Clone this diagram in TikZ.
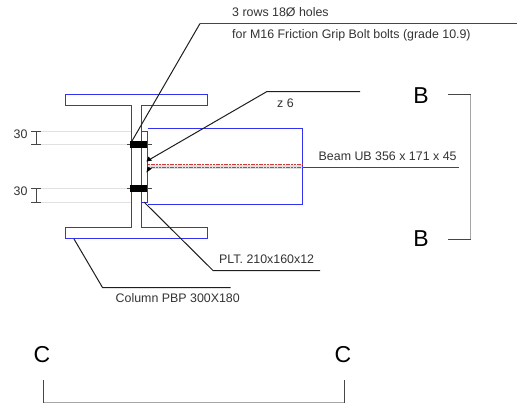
\documentclass[tikz,border=0pt]{standalone}
\usepackage{fontspec}
\setmainfont{Liberation Sans}
\definecolor{steel}{RGB}{50,50,240}
\definecolor{leader}{RGB}{30,30,30}
\definecolor{dim}{RGB}{70,70,70}
\definecolor{ghost}{RGB}{225,225,225}
\definecolor{weld}{RGB}{205,60,60}
\tikzset{
  steelline/.style={draw=steel,line width=1.2pt},
  leaderline/.style={draw=leader,line width=1pt},
  heavyleader/.style={draw=dim,line width=1.2pt},
  bracket/.style={draw=black!35,line width=1.1pt},
  ghostline/.style={draw=ghost,line width=1.5pt},
  dimline/.style={draw=dim,line width=1pt},
  label/.style={font=\fontsize{12.4}{14}\selectfont,text=black!80,inner sep=0pt,anchor=base west},
  bigletter/.style={font=\fontsize{23}{25}\selectfont,text=black,inner sep=0pt,anchor=base},
  boltbody/.style={fill=black,draw=none},
  tip/.style={fill=black,draw=none}
}
\begin{document}
\begin{tikzpicture}[x=1pt,y=-1pt]
\useasboundingbox (0,0) rectangle (517,405);
% guide lines
\coordinate (g1a) at (40,131.5); \coordinate (g1b) at (131,131.5);
\coordinate (g2a) at (40,144.5); \coordinate (g2b) at (131,144.5);
\coordinate (g3a) at (40,188.5); \coordinate (g3b) at (131,188.5);
\coordinate (g4a) at (40,202.5); \coordinate (g4b) at (131,202.5);
\foreach \n in {1,2,3,4} \draw[ghostline] (g\n a) -- (g\n b);
% column
\draw[steelline] (65.5,94.5) -- (207.5,94.5) -- (207.5,105.5) -- (141.5,105.5) -- (141.5,227.5) -- (207.5,227.5) -- (207.5,238.5) -- (65.5,238.5) -- (65.5,227.5) -- (131.5,227.5) -- (131.5,105.5) -- (65.5,105.5) -- cycle;
% plate
\draw[steelline] (141.5,131.5) -- (147.5,131.5) -- (147.5,202.5) -- (141.5,202.5);
% beam
\draw[steelline] (147.5,128.5) -- (302.5,128.5) -- (302.5,204.5) -- (147.5,204.5);
% weld
\fill[black!12] (148,164.5) rectangle (302,168.5);
\draw[weld,line width=1.1pt,dash pattern=on 2pt off 0.7pt] (148,164.5) -- (302,164.5);
\draw[weld,line width=1.1pt,dash pattern=on 2pt off 0.7pt] (148,167.5) -- (302,167.5);
% bolts
\draw[dim,line width=0.9pt] (127,144.5) -- (152,144.5);
\draw[dim,line width=0.9pt] (127,188.5) -- (152,188.5);
\fill[boltbody] (130,140.5) rectangle (147,148);
\fill[boltbody] (130,184.5) rectangle (147,192);
% dimensions
\draw[dimline] (31,131.5) -- (41,131.5) (36.5,131.5) -- (36.5,144.5) (31,144.5) -- (41,144.5);
\draw[dimline] (31,188.5) -- (41,188.5) (36.5,188.5) -- (36.5,202.5) (31,202.5) -- (41,202.5);
% labels
\node[label] (d1) at (13.5,138) {30};
\node[label] (d2) at (13.5,195) {30};
\node[label] (t1) at (232,16) {3 rows 18Ø holes};
\node[label] (t2) at (232,38) {for M16 Friction Grip Bolt bolts (grade 10.9)};
\node[label] (t3) at (277,107) {z 6};
\node[label] (t4) at (318.5,160) {Beam UB 356 x 171 x 45};
\node[label] (t5) at (219,263) {PLT. 210x160x12};
\node[label] (t6) at (115.5,302) {Column PBP 300X180};
\node[bigletter] (b1) at (421,103) {B};
\node[bigletter] (b2) at (421,246.5) {B};
\node[bigletter] (c1) at (42,362.5) {C};
\node[bigletter] (c2) at (343,362.5) {C};
% leaders
\coordinate (boltA) at (132,141);
\coordinate (k1) at (200,23.5); \coordinate (e1) at (517,23.5);
\draw[leaderline] (boltA) -- (k1);
\draw[heavyleader] (k1) -- (e1);
\coordinate (wA) at (147,161); \coordinate (wB) at (147,172);
\coordinate (k2) at (267,91.5); \coordinate (e2) at (360,91.5);
\draw[leaderline] (wA) -- (k2) -- (e2);
\fill[tip] (146.5,161.5) -- (152,160.5) -- (148.5,156.5) -- cycle;
\fill[tip] (146.5,172.5) -- (152,168.5) -- (147.5,167) -- cycle;
\coordinate (pA) at (144,202); \coordinate (k3) at (213,270.5); \coordinate (e3) at (320,270.5);
\draw[leaderline] (pA) -- (k3) -- (e3);
\coordinate (cA) at (74,239); \coordinate (k4) at (102.5,287.5); \coordinate (e4) at (230.5,287.5);
\draw[leaderline] (cA) -- (k4) -- (e4);
\coordinate (bA) at (302.5,167.5); \coordinate (e5) at (459,167.5);
\draw[heavyleader] (bA) -- (e5);
% section marks
\coordinate (b1a) at (448,94.5); \coordinate (b1b) at (470.5,94.5);
\coordinate (b2a) at (448,239.5); \coordinate (b2b) at (470.5,239.5);
\draw[bracket] (b1b) -- (b2b);
\draw[heavyleader] (b1a) -- (b1b) (b2a) -- (b2b);
\coordinate (c1a) at (43.5,380); \coordinate (c1b) at (43.5,402.5);
\coordinate (c2a) at (344.5,380); \coordinate (c2b) at (344.5,402.5);
\draw[bracket] (c1b) -- (c2b);
\draw[heavyleader] (c1a) -- (c1b) (c2a) -- (c2b);
\end{tikzpicture}
\end{document}
